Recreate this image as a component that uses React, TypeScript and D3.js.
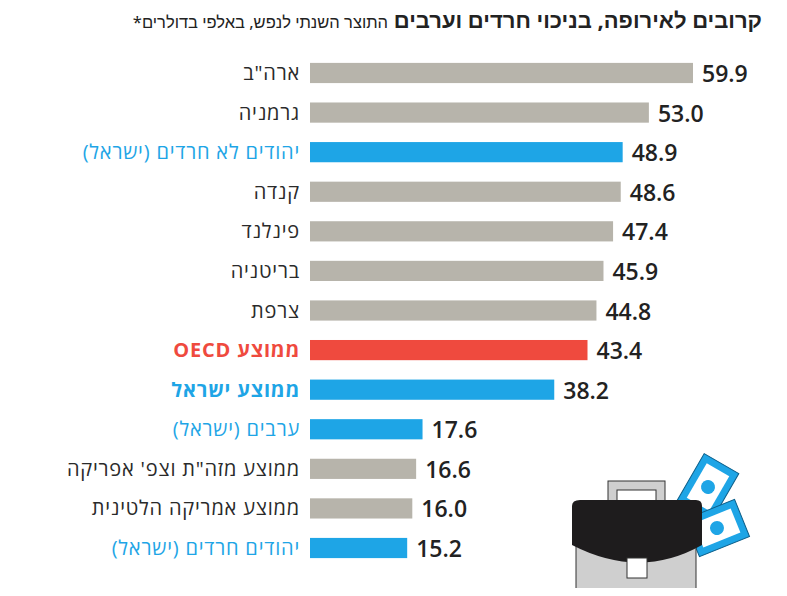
import { useEffect, useRef } from "react"
import * as d3 from "d3"

const labels = [
  "ארה\"ב",
  "גרמניה",
  "יהודים לא חרדים (ישראל)",
  "קנדה",
  "פינלנד",
  "בריטניה",
  "צרפת",
  "ממוצע OECD",
  "ממוצע ישראל",
  "ערבים (ישראל)",
  "ממוצע מזה\"ת וצפ' אפריקה",
  "ממוצע אמריקה הלטינית",
  "יהודים חרדים (ישראל)",
]
const values = [59.9, 53.0, 48.9, 48.6, 47.4, 45.9, 44.8, 43.4, 38.2, 17.6, 16.6, 16.0, 15.2]
const kinds = ["g", "g", "b", "g", "g", "g", "g", "r", "B", "b", "g", "g", "b"]

const colors: Record<string, string> = { g: "#b7b4ab", b: "#1ea5e6", B: "#1ea5e6", r: "#ef4a3e" }
const textColors: Record<string, string> = { g: "#2a2a2a", b: "#1ea5e6", B: "#1ea5e6", r: "#ef4a3e" }

export default function App() {
  const svgRef = useRef<SVGSVGElement>(null)

  useEffect(() => {
    if (!svgRef.current) return
    const svg = d3.select(svgRef.current)
    svg.selectAll("*").remove()
    const width = 787
    const height = 596
    svg.attr("width", width).attr("height", height).style("display", "block")

    const x = d3.scaleLinear().domain([0, 59.9]).range([310, 693])
    const y = d3.scaleBand<number>().domain(d3.range(labels.length)).range([53, 568]).paddingInner(0.49).paddingOuter(0.25)
    const font = "'Open Sans', 'DejaVu Sans', sans-serif"

    // title
    const title = svg.append("text").attr("x", 762).attr("y", 28).attr("direction", "rtl")
      .attr("text-anchor", "start").attr("font-family", "'Liberation Sans Narrow', 'Noto Sans', sans-serif").attr("fill", "#222")
    title.append("tspan").attr("font-size", 22).attr("font-weight", "bold").text("קרובים לאירופה, בניכוי חרדים וערבים ")
    title.append("tspan").attr("font-size", 16.5).text("התוצר השנתי לנפש, באלפי בדולרים*")

    const rows = svg.append("g").selectAll("g").data(values).enter().append("g")
    rows.append("rect")
      .attr("x", x(0))
      .attr("y", (_, i) => y(i)!)
      .attr("width", (d) => x(d) - x(0))
      .attr("height", y.bandwidth())
      .attr("fill", (_, i) => colors[kinds[i]])
    rows.append("text")
      .attr("x", (d) => x(d) + 9)
      .attr("y", (_, i) => y(i)! + y.bandwidth() / 2 + 9)
      .attr("font-family", font).attr("font-size", 23).attr("font-weight", 600).attr("fill", "#222")
      .text((d) => d.toFixed(1))
    rows.append("text")
      .attr("x", 300)
      .attr("y", (_, i) => y(i)! + y.bandwidth() / 2 + 7)
      .attr("direction", "rtl").attr("text-anchor", "start")
      .attr("font-family", font).attr("font-size", 20).attr("letter-spacing", 0.8)
      .attr("font-weight", (_, i) => (kinds[i] === "r" || kinds[i] === "B" ? "bold" : "normal"))
      .attr("fill", (_, i) => textColors[kinds[i]])
      .text((_, i) => labels[i])

    // briefcase illustration
    const ill = svg.append("g")
    const bill = (cx: number, cy: number, a: number) => {
      const g = ill.append("g").attr("transform", `translate(${cx},${cy}) rotate(${a})`)
      g.append("rect").attr("x", -27).attr("y", -20).attr("width", 54).attr("height", 40).attr("fill", "#1ea5e6").attr("stroke", "#0d5f8a")
      g.append("rect").attr("x", -20).attr("y", -13).attr("width", 40).attr("height", 26).attr("fill", "#fff")
      g.append("circle").attr("r", 7).attr("fill", "#1ea5e6")
    }
    bill(708, 487, -60)
    bill(717, 528, -22)
    ill.append("rect").attr("x", 608).attr("y", 481).attr("width", 57).attr("height", 25).attr("fill", "#cfcfcf").attr("stroke", "#333")
    ill.append("rect").attr("x", 617).attr("y", 490).attr("width", 39).attr("height", 16).attr("fill", "#fff").attr("stroke", "#333")
    ill.append("rect").attr("x", 576).attr("y", 530).attr("width", 120).attr("height", 66).attr("fill", "#cfcfcf").attr("stroke", "#333")
    ill.append("path").attr("d", "M580,500 H696 Q702,500 702,506 V545 Q640,580 572,545 V506 Q572,500 580,500 Z").attr("fill", "#1e1c1d")
    ill.append("rect").attr("x", 627).attr("y", 558).attr("width", 20).attr("height", 20).attr("fill", "#fff").attr("stroke", "#333")

    svg.append("line").attr("x1", 48).attr("x2", 762).attr("y1", 594).attr("y2", 594).attr("stroke", "#555").attr("stroke-width", 1.5)
  }, [])

  return <svg ref={svgRef} style={{ margin: -8 }} />
}
